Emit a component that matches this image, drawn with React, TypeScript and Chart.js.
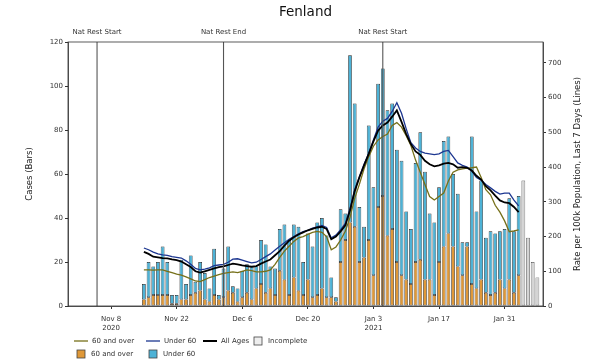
import React, { useEffect, useRef } from "react";
import { Chart, registerables } from "chart.js";

Chart.register(...registerables);

const TITLE = "Fenland";
const BASE_DATE = "2020-11-08";
const FIRST_BAR_DATE = "2020-11-15";
const X_MIN_DATE = "2020-10-30";
const X_MAX_DATE = "2021-02-08";

// daily cases, 15 Nov 2020 .. 3 Feb 2021
const over60Cases = [
  3, 4, 5, 5, 5, 5, 1, 1, 3, 3,
  5, 6, 7, 3, 2, 5, 3, 4, 7, 6,
  2, 4, 6, 3, 8, 10, 6, 8, 5, 16,
  12, 5, 13, 7, 5, 12, 4, 5, 8, 4,
  4, 2, 20, 30, 38, 36, 20, 22, 30, 14,
  45, 50, 32, 35, 20, 14, 12, 10, 20, 21,
  12, 12, 5, 20, 27, 33, 27, 18, 14, 27,
  10, 8, 12, 6, 5, 6, 12, 8, 12, 6,
  14,
];
const under60Cases = [
  7, 16, 13, 15, 22, 15, 4, 4, 18, 7,
  18, 5, 13, 12, 6, 21, 2, 13, 20, 3,
  6, 12, 13, 15, 10, 20, 22, 10, 12, 19,
  25, 25, 24, 29, 15, 21, 23, 33, 32, 28,
  9, 2, 24, 12, 76, 56, 25, 14, 52, 40,
  56, 58, 57, 57, 51, 52, 31, 25, 45, 58,
  49, 30, 33, 34, 48, 44, 33, 33, 15, 2,
  67, 35, 45, 25, 29, 27, 22, 27, 37, 28,
  36,
];
// 4 Feb .. 7 Feb 2021
const incompleteCases = [57, 31, 20, 13];

// rate per 100k, last 7 days, 15 Nov 2020 .. 3 Feb 2021
const rateOver60 = [
  104, 104, 103, 104, 104, 100, 96, 92, 89, 84,
  78, 72, 70, 76, 82, 86, 90, 94, 96, 98,
  96, 100, 104, 102, 98, 98, 100, 104, 120, 140,
  158, 172, 186, 196, 200, 206, 212, 215, 212, 200,
  162, 170, 190, 215, 255, 310, 350, 395, 430, 460,
  478, 488, 495, 520, 528, 515, 490, 462, 420, 385,
  350, 315, 305, 315, 325, 360, 385, 392, 395, 397,
  398, 400, 370, 335, 320, 290, 270, 245, 214, 216,
  219,
];
const rateUnder60 = [
  167, 162, 155, 150, 147, 146, 142, 140, 138, 130,
  120, 108, 104, 106, 110, 116, 118, 120, 126, 135,
  136, 132, 128, 124, 126, 134, 142, 150, 161, 172,
  182, 192, 200, 208, 214, 218, 224, 228, 232, 226,
  196, 204, 220, 238, 280, 335, 372, 408, 440, 478,
  515, 532, 540, 560, 585, 555, 510, 470, 455, 445,
  440, 438, 436, 438, 445, 448, 430, 412, 405, 400,
  388, 370, 362, 350, 340, 330, 322, 325, 325, 305,
  288,
];
const rateAllAges = [
  156, 150, 142, 140, 138, 137, 134, 132, 128, 120,
  112, 100, 96, 100, 104, 108, 112, 114, 118, 122,
  120, 117, 115, 113, 115, 122, 128, 134, 146, 158,
  174, 188, 198, 206, 212, 218, 222, 226, 228, 222,
  192, 200, 215, 232, 275, 330, 370, 405, 438, 474,
  505, 520, 528, 545, 563, 530, 495, 466, 445, 435,
  418, 408, 402, 405, 410, 412, 408, 398, 400, 398,
  390, 375, 364, 345, 333, 318, 304, 298, 296, 285,
  270,
];

const tickDates = ["2020-11-08", "2020-11-22", "2020-12-06", "2020-12-20", "2021-01-03", "2021-01-17", "2021-01-31"];
const tickLabels: (string | string[])[] = [["Nov 8", "2020"], "Nov 22", "Dec 6", "Dec 20", ["Jan 3", "2021"], "Jan 17", "Jan 31"];
const casesTicks = [0, 20, 40, 60, 80, 100, 120];
const rateTicks = [0, 100, 200, 300, 400, 500, 600, 700];
const CASES_MAX = 120;
const RATE_MAX = 760;

const eventDates = ["2020-11-05", "2020-12-02", "2021-01-05"];
const eventLabels = ["Nat Rest Start", "Nat Rest End", "Nat Rest Start"];

const LEFT_TITLE = "Cases (Bars)";
const RIGHT_TITLE = "Rate per 100k Population, Last 7 Days (Lines)";

const C_OVER = "#df9838";
const C_UNDER = "#4db2d6";
const C_INC = "#d4d4d4";
const L_OVER = "#767019";
const L_UNDER = "#1c3690";
const L_ALL = "#000000";
const FONT = '"DejaVu Sans", sans-serif';

const dayNum = (s: string) => {
  const [y, m, d] = s.split("-").map(Number);
  return Date.UTC(y, m - 1, d) / 86400000;
};
const base = dayNum(BASE_DATE);
const xOf = (s: string) => dayNum(s) - base;
const firstX = xOf(FIRST_BAR_DATE);
const pts = (arr: number[], start: number) => arr.map((v, i) => ({ x: start + i, y: v }));

const overlay = {
  id: "overlay",
  afterDatasetsDraw(chart: any) {
    const { ctx, chartArea: a, scales } = chart;
    const xs = scales.x;
    ctx.save();
    // event lines
    eventDates.forEach((d, i) => {
      const px = xs.getPixelForValue(xOf(d));
      ctx.strokeStyle = "#555";
      ctx.lineWidth = 1.1;
      ctx.beginPath();
      ctx.moveTo(px, a.top);
      ctx.lineTo(px, a.bottom);
      ctx.stroke();
      ctx.fillStyle = "#333";
      ctx.font = `7px ${FONT}`;
      ctx.textAlign = "center";
      ctx.textBaseline = "middle";
      ctx.fillText(eventLabels[i], px, a.top - 10);
    });
    // frame
    ctx.strokeStyle = "#333";
    ctx.lineWidth = 0.8;
    ctx.strokeRect(a.left, a.top, a.right - a.left, a.bottom - a.top);
    // title
    ctx.fillStyle = "#111";
    ctx.font = `13.5px ${FONT}`;
    ctx.textAlign = "center";
    ctx.textBaseline = "middle";
    ctx.fillText(TITLE, (a.left + a.right) / 2, 12);
    // right title
    ctx.save();
    ctx.translate(578, (a.top + a.bottom) / 2);
    ctx.rotate(-Math.PI / 2);
    ctx.font = `8.5px ${FONT}`;
    ctx.fillStyle = "#222";
    ctx.fillText(RIGHT_TITLE, 0, 0);
    ctx.restore();
    // legend
    ctx.font = `7px ${FONT}`;
    ctx.textAlign = "left";
    ctx.textBaseline = "middle";
    const line = (x0: number, y: number, color: string, w: number, label: string) => {
      ctx.strokeStyle = color;
      ctx.lineWidth = w;
      ctx.beginPath();
      ctx.moveTo(x0, y);
      ctx.lineTo(x0 + 14, y);
      ctx.stroke();
      ctx.fillStyle = "#333";
      ctx.fillText(label, x0 + 18, y);
    };
    const box = (x0: number, y: number, color: string, label: string) => {
      ctx.fillStyle = color;
      ctx.fillRect(x0, y - 4, 8, 8);
      ctx.strokeStyle = "#444";
      ctx.lineWidth = 0.8;
      ctx.strokeRect(x0, y - 4, 8, 8);
      ctx.fillStyle = "#333";
      ctx.fillText(label, x0 + 14, y);
    };
    const r1 = 341;
    const r2 = 354;
    line(74, r1, L_OVER, 1.3, "60 and over");
    line(146, r1, L_UNDER, 1.3, "Under 60");
    line(203, r1, L_ALL, 2, "All Ages");
    box(254, r1, "#eeeeee", "Incomplete");
    box(77, r2, C_OVER, "60 and over");
    box(149, r2, C_UNDER, "Under 60");
    ctx.restore();
  },
};

export default function App() {
  const ref = useRef<HTMLCanvasElement | null>(null);
  useEffect(() => {
    if (!ref.current) return;
    const incStart = firstX + over60Cases.length;
    const barCommon = {
      type: "bar" as const,
      borderColor: "#1e1e1e",
      borderWidth: 0.7,
      borderSkipped: false,
      barPercentage: 0.8,
      categoryPercentage: 1,
      yAxisID: "y",
      order: 5,
    };
    const lineCommon = {
      type: "line" as const,
      pointRadius: 0,
      tension: 0,
      fill: false,
      yAxisID: "y2",
    };
    const chart = new Chart(ref.current, {
      type: "bar",
      data: {
        datasets: [
          { ...lineCommon, label: "All Ages", data: pts(rateAllAges, firstX), borderColor: L_ALL, borderWidth: 1.8, order: 0 },
          { ...lineCommon, label: "Under 60", data: pts(rateUnder60, firstX), borderColor: L_UNDER, borderWidth: 1.3, order: 1 },
          { ...lineCommon, label: "60 and over", data: pts(rateOver60, firstX), borderColor: L_OVER, borderWidth: 1.3, order: 2 },
          { ...barCommon, label: "60 and over", data: pts(over60Cases, firstX), backgroundColor: C_OVER },
          { ...barCommon, label: "Under 60", data: pts(under60Cases, firstX), backgroundColor: C_UNDER },
          { ...barCommon, label: "Incomplete", data: pts(incompleteCases, incStart), backgroundColor: C_INC, borderColor: "#444" },
        ] as any,
      },
      options: {
        responsive: false,
        animation: false,
        devicePixelRatio: 1,
        layout: { padding: { top: 42, left: 0, right: 0, bottom: 0 } },
        plugins: { legend: { display: false }, tooltip: { enabled: false }, title: { display: false } },
        scales: {
          x: {
            type: "linear",
            stacked: true,
            offset: false,
            min: xOf(X_MIN_DATE) - 0.2,
            max: xOf(X_MAX_DATE) + 0.2,
            afterBuildTicks: (axis: any) => {
              axis.ticks = tickDates.map((d) => ({ value: xOf(d) }));
            },
            afterFit: (s: any) => {
              s.height = 58;
            },
            ticks: {
              autoSkip: false,
              maxRotation: 0,
              padding: 5,
              color: "#333",
              font: { family: FONT, size: 7, lineHeight: 1.35 },
              callback: (_v: any, i: number) => tickLabels[i],
            },
            grid: { offset: false, drawOnChartArea: false, drawTicks: true, tickLength: 3, color: "#333" },
            border: { display: true, color: "#333", width: 0.8 },
          },
          y: {
            type: "linear",
            position: "left",
            stacked: true,
            min: 0,
            max: CASES_MAX,
            afterBuildTicks: (axis: any) => {
              axis.ticks = casesTicks.map((v) => ({ value: v }));
            },
            afterFit: (s: any) => {
              s.width = 68;
            },
            ticks: { padding: 2, color: "#333", font: { family: FONT, size: 7 } },
            grid: { drawOnChartArea: false, drawTicks: true, tickLength: 3, color: "#333" },
            border: { display: true, color: "#333", width: 0.8 },
            title: {
              display: true,
              text: LEFT_TITLE,
              color: "#222",
              font: { family: FONT, size: 8.5 },
              padding: { top: 25, bottom: 0 },
            },
          },
          y2: {
            type: "linear",
            position: "right",
            stacked: false,
            min: 0,
            max: RATE_MAX,
            afterBuildTicks: (axis: any) => {
              axis.ticks = rateTicks.map((v) => ({ value: v }));
            },
            afterFit: (s: any) => {
              s.width = 53;
            },
            ticks: { padding: 2, color: "#333", font: { family: FONT, size: 7 } },
            grid: { drawOnChartArea: false, drawTicks: true, tickLength: 3, color: "#333" },
            border: { display: true, color: "#333", width: 0.8 },
          },
        },
      } as any,
      plugins: [overlay],
    });
    return () => chart.destroy();
  }, []);
  return (
    <div style={{ position: "fixed", left: 0, top: 0, width: 596, height: 364, background: "#fff" }}>
      <canvas ref={ref} width={596} height={364} style={{ display: "block" }} />
    </div>
  );
}
